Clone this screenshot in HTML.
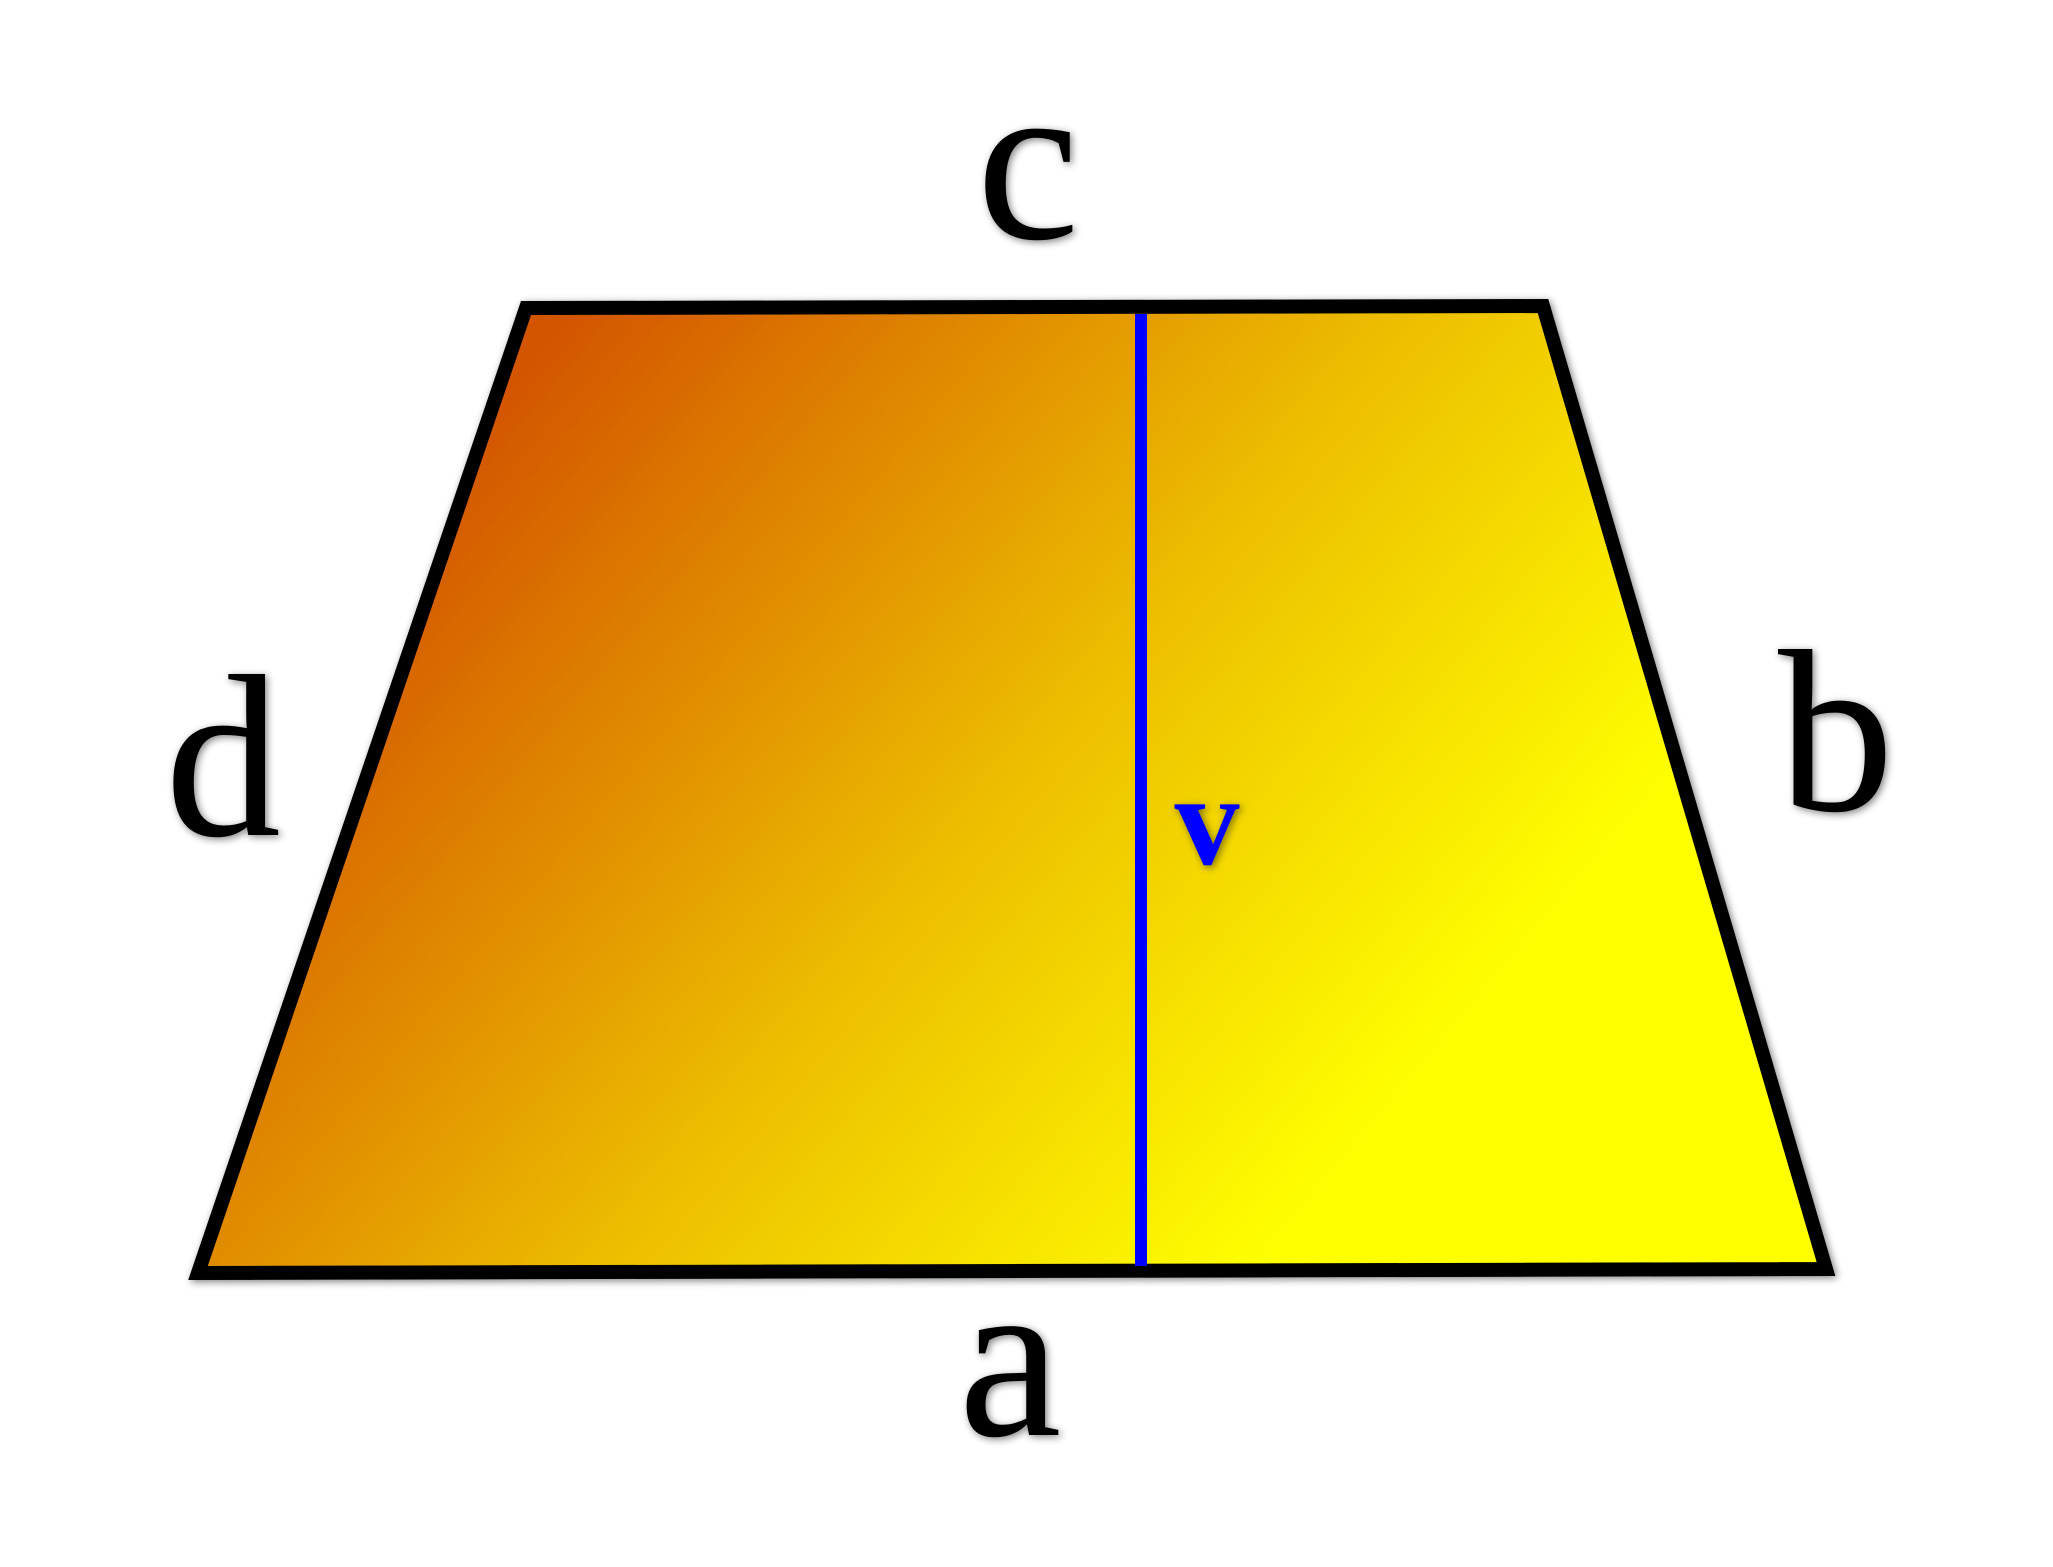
<!DOCTYPE html>
<html><head><meta charset="utf-8"><style>
html,body{margin:0;padding:0;background:#fff;width:2053px;height:1567px;overflow:hidden}
text{font-family:"Liberation Serif",serif}
</style></head><body>
<svg width="2053" height="1567" viewBox="0 0 2053 1567">
<defs>
<linearGradient id="g" gradientUnits="userSpaceOnUse" x1="540" y1="340" x2="1420" y2="1080">
<stop offset="0" stop-color="#d35400"/>
<stop offset="0.55" stop-color="#ecbc00"/>
<stop offset="1" stop-color="#ffff00"/>
</linearGradient>
<filter id="sh" x="-10%" y="-10%" width="120%" height="120%"><feGaussianBlur in="SourceAlpha" stdDeviation="4"/><feOffset dx="2" dy="2"/><feComponentTransfer><feFuncA type="linear" slope="0.5"/></feComponentTransfer><feMerge><feMergeNode/><feMergeNode in="SourceGraphic"/></feMerge></filter>
</defs>
<polygon points="526,308 1543,306 1826,1269 198,1273" fill="url(#g)" stroke="#000" stroke-width="14" stroke-linejoin="miter" filter="url(#sh)"/>
<line x1="1141" y1="314" x2="1141" y2="1266" stroke="#0000ff" stroke-width="12"/>
<g filter="url(#sh)" font-size="232">
<text x="1028" y="238" text-anchor="middle">c</text>
<text x="223" y="835" text-anchor="middle">d</text>
<text x="1836" y="810" text-anchor="middle">b</text>
<text x="1010" y="1435" text-anchor="middle">a</text>
<text x="1207" y="864" text-anchor="middle" font-size="130" font-weight="bold" fill="#0000ff">v</text>
</g>
</svg>
</body></html>
